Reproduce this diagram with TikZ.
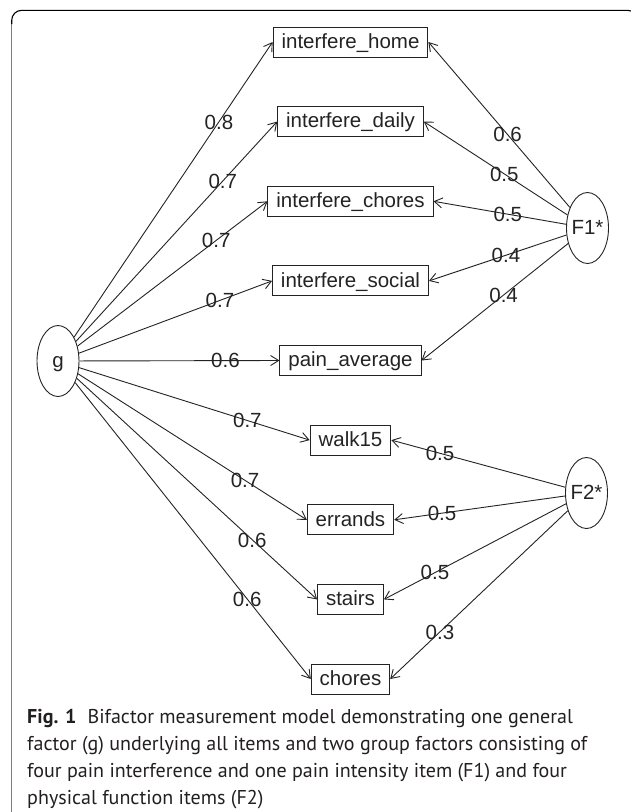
\documentclass[tikz,border=0pt]{standalone}
\usepackage{fontspec}
\usepackage{graphicx}
\usetikzlibrary{arrows.meta,shapes.geometric}
\newfontfamily\diafont{Liberation Sans}
\newfontfamily\capfont{PT Sans}
\definecolor{ink}{RGB}{35,35,35}
\definecolor{capink}{RGB}{35,31,32}
\definecolor{framegray}{RGB}{125,125,125}
\newlength\caplen
\begin{document}
\settowidth{\caplen}{\capfont\fontsize{20}{27}\selectfont\textbf{Fig. 1}\hspace{11pt}Bifactor measurement model demonstrating one general}%
\pgfmathsetmacro\capr{545.7/\caplen}%
\begin{tikzpicture}[x=1pt,y=-1pt,
  diatext/.style={font=\diafont\fontsize{20.5}{22}\selectfont, text=ink},
  item/.style={diatext, draw=ink, line width=0.9pt, rectangle, minimum height=30pt,
    inner xsep=8.5pt, inner ysep=0pt, text height=15pt, text depth=2.4pt},
  factor/.style={diatext, draw=ink, line width=0.9pt, ellipse, minimum width=42pt,
    minimum height=71pt, inner sep=0pt, text height=15pt, text depth=2.4pt},
  load/.style={draw=ink, line width=0.9pt, -{Straight Barb[length=8pt,width=10pt]}},
  lbl/.style={diatext, inner sep=0pt, text height=14.7pt, text depth=0pt},
  capline/.style={anchor=base west, inner sep=0pt, text=capink,
    font=\capfont\fontsize{20}{27}\selectfont}]
\useasboundingbox (0,0) rectangle (630,812);
% frame
\draw[framegray, line width=1.1pt] (11.7,830) -- (11.7,24);
\draw[black, line width=1.1pt, rounded corners=10pt] (11.7,24) -- (11.7,10.3) -- (637.5,10.3) -- (637.5,40);
% factors
\node[factor] (g)  at (58,361)    {\makebox[0pt]{g}};
\node[factor] (F1) at (587.5,228) {\makebox[0pt]{F1*}};
\node[factor] (F2) at (586.5,493) {\makebox[0pt]{F2*}};
% items
\node[item] (home)    at (350.5,42)    {interfere\_home};
\node[item] (daily)   at (350.5,121.6) {interfere\_daily};
\node[item] (ichores) at (350.5,201.3) {interfere\_chores};
\node[item] (social)  at (350.5,280.9) {interfere\_social};
\node[item] (pain)    at (350.5,360.5) {pain\_average};
\node[item] (walk)    at (350.5,440.1) {walk15};
\node[item] (errands) at (350.5,519.8) {errands};
\node[item] (stairs)  at (350.5,599.4) {stairs};
\node[item] (chores)  at (350.5,679)   {chores};
% general factor loadings
\draw[load] (g) -- node[lbl,pos=.73] {0.8} (home.west);
\draw[load] (g) -- node[lbl,pos=.73] {0.7} (daily.west);
\draw[load] (g) -- node[lbl,pos=.73] {0.7} (ichores.west);
\draw[load] (g) -- node[lbl,pos=.73] {0.7} (social.west);
\draw[load] (g) -- node[lbl,pos=.73] {0.6} (pain.west);
\draw[load] (g) -- node[lbl,pos=.73] {0.7} (walk.west);
\draw[load] (g) -- node[lbl,pos=.73] {0.7} (errands.west);
\draw[load] (g) -- node[lbl,pos=.73] {0.6} (stairs.west);
\draw[load] (g) -- node[lbl,pos=.73] {0.6} (chores.west);
% F1 loadings
\draw[load] (F1) -- node[lbl,pos=.44] {0.6} (home.east);
\draw[load] (F1) -- node[lbl,pos=.44] {0.5} (daily.east);
\draw[load] (F1) -- node[lbl,pos=.44] {0.5} (ichores.east);
\draw[load] (F1) -- node[lbl,pos=.44] {0.4} (social.east);
\draw[load] (F1) -- node[lbl,pos=.44] {0.4} (pain.east);
% F2 loadings
\draw[load] (F2) -- node[lbl,pos=.72] {0.5} (walk.east);
\draw[load] (F2) -- node[lbl,pos=.72] {0.5} (errands.east);
\draw[load] (F2) -- node[lbl,pos=.72] {0.5} (stairs.east);
\draw[load] (F2) -- node[lbl,pos=.72] {0.3} (chores.east);
% caption
\node[capline] (cap1) at (27,723)   {\scalebox{\capr}[1]{\textbf{Fig. 1}\hspace{11pt}Bifactor measurement model demonstrating one general}};
\node[capline] (cap2) at (27,750.3) {\scalebox{\capr}[1]{factor (g) underlying all items and two group factors consisting of}};
\node[capline] (cap3) at (27,777.6) {\scalebox{\capr}[1]{four pain interference and one pain intensity item (F1) and four}};
\node[capline] (cap4) at (27,804.5) {\scalebox{\capr}[1]{physical function items (F2)}};
\end{tikzpicture}
\end{document}
